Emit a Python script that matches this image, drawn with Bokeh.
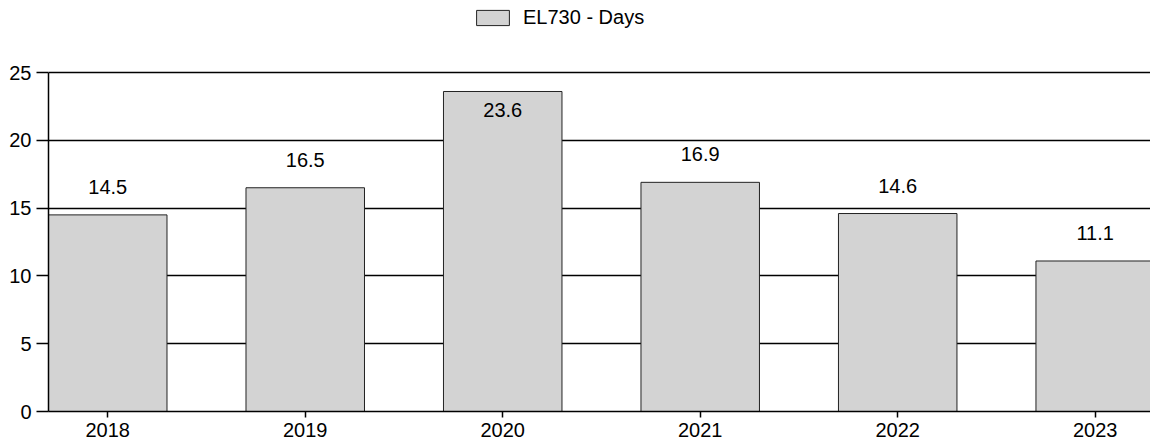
from bokeh.plotting import figure
from bokeh.models import (ColumnDataSource, Range1d, FixedTicker, Legend, LegendItem, LabelSet)
from bokeh.core.properties import value
from bokeh.embed import file_html
from bokeh.resources import INLINE

# Data
years = ["2018", "2019", "2020", "2021", "2022", "2023"]
days = [14.5, 16.5, 23.6, 16.9, 14.6, 11.1]
series_name = "EL730 - Days"
y_ticks = [0, 5, 10, 15, 20, 25]

idx = list(range(len(years)))
labels = [f"{v:.1f}" for v in days]
# labels float above bars, except when near the top they go inside
offsets = [-19 if v > 22 else 28 for v in days]

src = ColumnDataSource(dict(x=idx, top=days, label=labels, off=offsets))

FONT = "Liberation Sans"
FS = "20px"

# frame extends to top of the picture so the legend can sit inside it;
# the axis itself is bounded to 0..25
p = figure(width=1150, height=447, output_backend="svg", toolbar_location=None,
           x_range=Range1d(-0.3, 5.28), y_range=Range1d(0, 30.31),
           min_border_left=48, min_border_right=0, min_border_top=0, min_border_bottom=36)
p.outline_line_color = None
p.background_fill_color = "white"
p.border_fill_color = "white"

bars = p.vbar(x="x", top="top", bottom=0, width=0.6, source=src,
              fill_color="#d3d3d3", line_color="#222222", line_width=1)

# Grid
p.xgrid.visible = False
p.ygrid.grid_line_color = "black"
p.ygrid.grid_line_width = 1.5
p.ygrid.ticker = FixedTicker(ticks=y_ticks)
p.ygrid.level = "underlay"

# Y axis
ya = p.yaxis[0]
ya.ticker = FixedTicker(ticks=y_ticks)
ya.bounds = (y_ticks[0], y_ticks[-1])
ya.axis_line_color = "black"
ya.axis_line_width = 1.5
ya.major_tick_out = 12
ya.major_tick_in = 0
ya.major_tick_line_width = 1.5
ya.minor_tick_line_color = None
ya.major_label_standoff = 5
ya.major_label_text_font = FONT
ya.major_label_text_font_size = FS
ya.major_label_text_color = "black"

# X axis
xa = p.xaxis[0]
xa.ticker = FixedTicker(ticks=idx)
xa.major_label_overrides = {i: y for i, y in zip(idx, years)}
xa.axis_line_color = "black"
xa.axis_line_width = 1.5
xa.major_tick_out = 6
xa.major_tick_in = 0
xa.major_tick_line_width = 1.5
xa.minor_tick_line_color = None
xa.major_label_standoff = 5
xa.major_label_text_font = FONT
xa.major_label_text_font_size = FS
xa.major_label_text_color = "black"

# Value labels
ls = LabelSet(x="x", y="top", text="label", y_offset="off", source=src,
              text_align="center", text_baseline="middle",
              text_font=value(FONT), text_font_size=FS, text_color="black")
p.add_layout(ls)

# Legend
legend = Legend(items=[LegendItem(label=series_name, renderers=[bars])],
                location=(424, 382), orientation="horizontal",
                glyph_width=41, glyph_height=19, padding=0, margin=0,
                border_line_color=None, background_fill_alpha=0,
                label_text_font=FONT, label_text_font_size=FS,
                label_text_color="black", label_standoff=10)
p.add_layout(legend, "center")

open("out.html", "w").write(file_html(p, INLINE))
